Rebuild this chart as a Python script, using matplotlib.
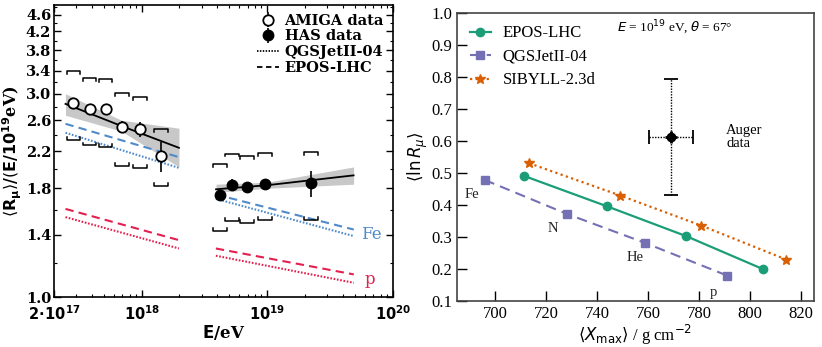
import numpy as np
import matplotlib
matplotlib.use("Agg")
import matplotlib.pyplot as plt
from matplotlib.ticker import FixedLocator, NullFormatter, MultipleLocator

# ---- left panel data ----
amiga_E = [2.86e17, 3.84e17, 5.15e17, 6.92e17, 9.64e17, 1.42e18]
amiga_R = [2.85, 2.76, 2.76, 2.51, 2.48, 2.14]
amiga_err = [0.05, 0.05, 0.06, 0.08, 0.10, 0.17]
amiga_sys_up = [3.39, 3.27, 3.25, 3.01, 2.95, 2.48]
amiga_sys_lo = [2.34, 2.27, 2.25, 2.03, 2.01, 1.82]

has_E = [4.2e18, 5.25e18, 6.92e18, 9.64e18, 2.25e19]
has_R = [1.74, 1.83, 1.81, 1.84, 1.85]
has_err = [0.04, 0.06, 0.05, 0.05, 0.13]
has_sys_up = [2.05, 2.17, 2.14, 2.18, 2.19]
has_sys_lo = [1.43, 1.51, 1.49, 1.52, 1.52]

amiga_fit_E = [2.47e17, 6.9e17, 1.98e18]
amiga_fit_R = [2.84, 2.52, 2.24]
amiga_band_lo = [2.67, 2.45, 2.02]
amiga_band_hi = [3.00, 2.60, 2.49]

has_fit_E = [3.91e18, 1.0e19, 4.88e19]
has_fit_R = [1.79, 1.83, 1.93]
has_band_lo = [1.76, 1.80, 1.84]
has_band_hi = [1.84, 1.86, 2.02]

model_E_lo = [2.47e17, 1.98e18]
model_E_hi = [3.9e18, 4.9e19]
fe_epos_lo = [2.55, 2.13]
fe_qgs_lo = [2.43, 2.01]
p_epos_lo = [1.61, 1.36]
p_qgs_lo = [1.54, 1.30]
fe_epos_hi = [1.74, 1.44]
fe_qgs_hi = [1.70, 1.39]
p_epos_hi = [1.30, 1.13]
p_qgs_hi = [1.25, 1.08]

# ---- right panel data ----
epos_X = [711.1, 744.0, 775.0, 805.1]
epos_Y = [0.491, 0.395, 0.302, 0.199]
qgs_X = [695.8, 728.0, 758.8, 791.0]
qgs_Y = [0.478, 0.372, 0.281, 0.179]
sib_X = [713.3, 749.1, 780.9, 814.2]
sib_Y = [0.530, 0.429, 0.335, 0.229]
auger_X, auger_Y = 769.0, 0.612
auger_X_stat, auger_X_sys = 2.3, 8.5
auger_Y_stat, auger_Y_sys = 0.02, 0.18
prim_labels = ["Fe", "N", "He", "p"]
prim_X = [691.0, 722.7, 754.9, 785.5]
prim_Y = [0.431, 0.325, 0.234, 0.125]

BLUE = "#4f8ac9"
RED = "#e3204f"
GREEN = "#1b9e77"
PURPLE = "#7570b3"
ORANGE = "#d95f02"

fig = plt.figure(figsize=(8.22, 3.47), dpi=100)
axL = fig.add_axes([0.0657, 0.144, 0.412, 0.842])
axR = fig.add_axes([0.556, 0.133, 0.434, 0.830])

bold = dict(family="DejaVu Serif", weight="bold")

# ---- left panel ----
axL.set_xscale("log")
axL.set_yscale("log")

axL.fill_between(amiga_fit_E, amiga_band_lo, amiga_band_hi, color="#c8c8c8", lw=0, zorder=1)
axL.fill_between(has_fit_E, has_band_lo, has_band_hi, color="#c8c8c8", lw=0, zorder=1)
axL.plot(amiga_fit_E, amiga_fit_R, color="black", lw=1.3, zorder=2)
axL.plot(has_fit_E, has_fit_R, color="black", lw=1.3, zorder=2)

for E, (fe_e, fe_q, p_e, p_q) in [(model_E_lo, (fe_epos_lo, fe_qgs_lo, p_epos_lo, p_qgs_lo)),
                                   (model_E_hi, (fe_epos_hi, fe_qgs_hi, p_epos_hi, p_qgs_hi))]:
    axL.plot(E, fe_e, color=BLUE, lw=1.5, ls=(0, (4, 2.5)), zorder=3)
    axL.plot(E, fe_q, color=BLUE, lw=1.5, ls=(0, (0.8, 0.8)), zorder=3)
    axL.plot(E, p_e, color=RED, lw=1.5, ls=(0, (4, 2.5)), zorder=3)
    axL.plot(E, p_q, color=RED, lw=1.5, ls=(0, (0.8, 0.8)), zorder=3)

# systematic brackets
w = 10 ** 0.055
d = 1.015
for Es, ups, los in [(amiga_E, amiga_sys_up, amiga_sys_lo), (has_E, has_sys_up, has_sys_lo)]:
    for E, u, l in zip(Es, ups, los):
        axL.plot([E / w, E / w, E * w, E * w], [u / d, u, u, u / d], color="black", lw=1.1, zorder=4)
        axL.plot([E / w, E / w, E * w, E * w], [l * d, l, l, l * d], color="black", lw=1.1, zorder=4)

h_am = axL.errorbar(amiga_E, amiga_R, yerr=amiga_err, fmt="o", ms=7.5, mfc="white", mec="black",
                    mew=1.3, ecolor="black", elinewidth=1.2, zorder=6)
h_has = axL.errorbar(has_E, has_R, yerr=has_err, fmt="o", ms=7.5, mfc="black", mec="black",
                     ecolor="black", elinewidth=1.2, zorder=6)
h_q, = axL.plot([], [], color="black", lw=1.3, ls=(0, (0.8, 0.8)))
h_e, = axL.plot([], [], color="black", lw=1.3, ls=(0, (3, 2)))

axL.legend([h_am, h_has, h_q, h_e], ["AMIGA data", "HAS data", "QGSJetII-04", "EPOS-LHC"],
           loc="upper right", frameon=False, prop=dict(family="DejaVu Serif", weight="bold", size=10.5),
           handlelength=1.5, handletextpad=0.4, labelspacing=0.12, borderaxespad=0.2)

axL.text(5.6e19, 1.40, "Fe", color=BLUE, family="DejaVu Serif", fontsize=12, va="center")
axL.text(6.0e19, 1.10, "p", color=RED, family="DejaVu Serif", fontsize=12, va="center")

axL.set_xlim(2e17, 1e20)
axL.set_ylim(1.0, 4.85)
axL.xaxis.set_major_locator(FixedLocator([2e17, 1e18, 1e19, 1e20]))
axL.set_xticklabels([r"$\mathbf{2\!\cdot\!10^{17}}$", r"$\mathbf{10^{18}}$",
                     r"$\mathbf{10^{19}}$", r"$\mathbf{10^{20}}$"])
minor_x = [float(m) * 10.0 ** k for k in (17, 18, 19) for m in range(2, 10)]
axL.xaxis.set_minor_locator(FixedLocator(minor_x))
axL.xaxis.set_minor_formatter(NullFormatter())
yt = [1.0, 1.4, 1.8, 2.2, 2.6, 3.0, 3.4, 3.8, 4.2, 4.6]
axL.yaxis.set_major_locator(FixedLocator(yt))
axL.set_yticklabels([f"{v:.1f}" for v in yt])
axL.yaxis.set_minor_locator(FixedLocator([1.2, 1.6, 2.0, 2.4, 2.8, 3.2, 3.6, 4.0, 4.4, 4.8]))
axL.yaxis.set_minor_formatter(NullFormatter())
axL.tick_params(which="both", direction="in", top=True, right=True)
axL.tick_params(which="major", length=5, width=1.0)
axL.tick_params(which="minor", length=2.5, width=0.8)
axL.tick_params(axis="x", which="major", pad=5)
axL.tick_params(axis="y", which="major", pad=2)
for lab in axL.get_xticklabels() + axL.get_yticklabels():
    lab.set_fontsize(10.5)
    lab.set_family("DejaVu Serif")
    lab.set_weight("bold")
for sp in axL.spines.values():
    sp.set_linewidth(1.2)
axL.set_xlabel(r"$\mathbf{E}$/eV", fontsize=12, labelpad=0, **bold)
axL.set_ylabel(r"$\langle \mathbf{R_{\mu}} \rangle$/$(\mathbf{E}$/$\mathbf{10^{19}}$eV)", fontsize=11.5,
               labelpad=1, **bold)

# ---- right panel ----
serif = "Liberation Serif"
axR.plot(epos_X, epos_Y, color=GREEN, ls="-", lw=1.6, marker="o", ms=6, label="EPOS-LHC", zorder=3)
axR.plot(qgs_X, qgs_Y, color=PURPLE, ls=(0, (5, 3)), lw=1.5, marker="s", ms=6, label="QGSJetII-04", zorder=3)
axR.plot(sib_X, sib_Y, color=ORANGE, ls=(0, (1, 1.5)), lw=1.6, marker="*", ms=7, label="SIBYLL-2.3d", zorder=3)

# Auger point: dotted systematics with caps, solid statistical
sys_eb = axR.errorbar(auger_X, auger_Y, xerr=auger_X_sys, yerr=auger_Y_sys, fmt="none", ecolor="black",
                      elinewidth=1.0, capsize=5, capthick=1.3, zorder=4)
for coll in sys_eb[2]:
    coll.set_linestyle((0, (1, 1)))
axR.errorbar(auger_X, auger_Y, xerr=auger_X_stat, yerr=auger_Y_stat, fmt="o", ms=6, color="black",
             elinewidth=2.0, zorder=5)

for lab, x, y in zip(prim_labels, prim_X, prim_Y):
    axR.text(x, y, lab, family=serif, fontsize=10.5, ha="center", va="center", color="#222222")

axR.text(747.8, 0.953, r"$E$ = 10$^{19}$ eV, $\theta$ = 67°", family=serif, fontsize=9.5, va="center")
axR.text(790.6, 0.613, "Auger\ndata", family=serif, fontsize=10.5, va="center", linespacing=1.0)

axR.set_xlim(685, 825)
axR.set_ylim(0.1, 1.0)
axR.xaxis.set_major_locator(MultipleLocator(20))
axR.yaxis.set_major_locator(MultipleLocator(0.1))
axR.tick_params(direction="in", length=7, width=1.0, labelsize=12)
for lab in axR.get_xticklabels() + axR.get_yticklabels():
    lab.set_family(serif)
for sp in axR.spines.values():
    sp.set_color("#444444")
    sp.set_linewidth(1.2)
axR.set_xlabel(r"$\langle X_{\rm max}\rangle$ / g cm$^{-2}$", fontsize=12, family=serif, labelpad=1)
axR.set_ylabel(r"$\langle \ln R_{\mu} \rangle$", fontsize=12, family=serif, labelpad=1)
axR.legend(loc="upper left", bbox_to_anchor=(0.0, 1.0), frameon=False, prop=dict(family=serif, size=12),
           handlelength=1.3, labelspacing=0.45, borderaxespad=0.35, handletextpad=0.7)

fig.savefig("out.png", dpi=100)
